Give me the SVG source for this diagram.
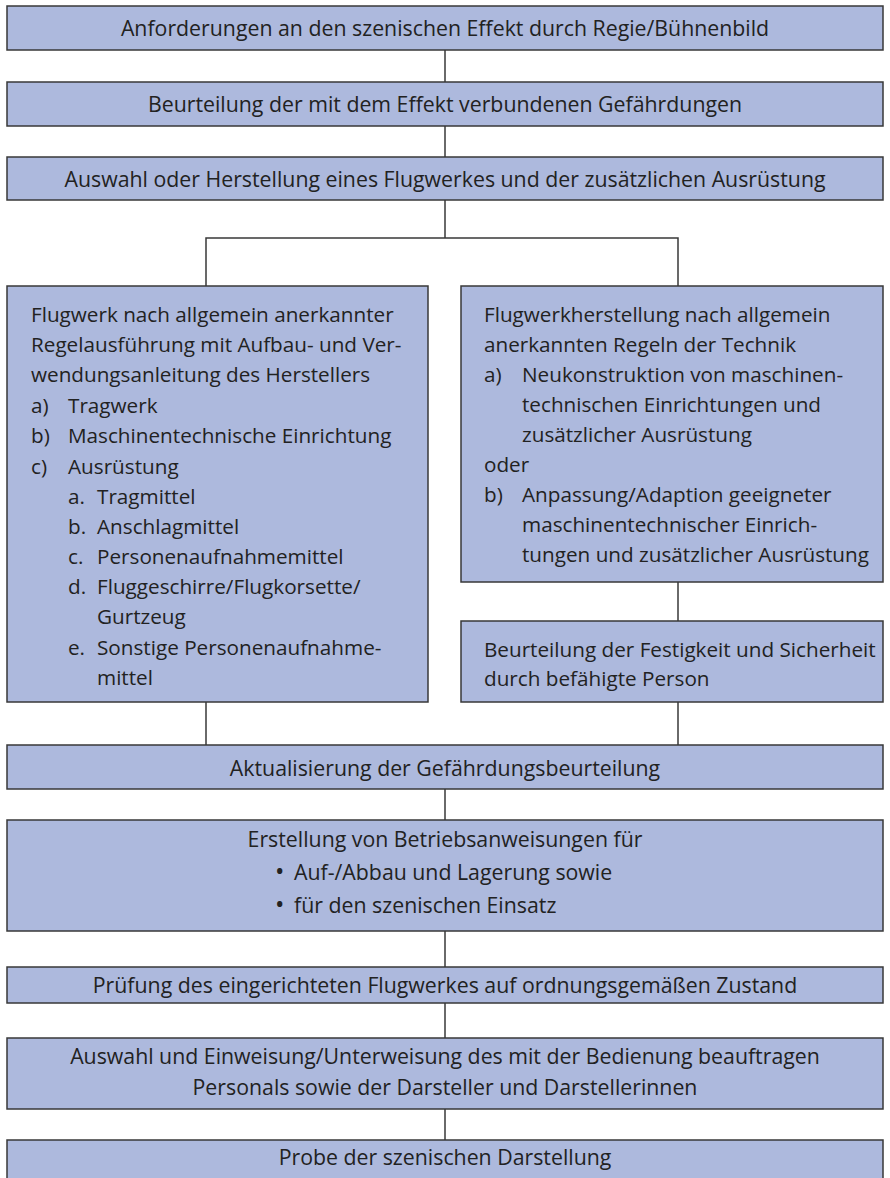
<svg xmlns="http://www.w3.org/2000/svg" width="890" height="1178" viewBox="0 0 890 1178">
<style>
.box{fill:#adb9dd;stroke:#383838;stroke-width:1.5}
.t{font-family:"Open Sans","Noto Sans",sans-serif;font-size:21.3px;fill:#222}
.s{font-size:20.7px}
.c{text-anchor:middle}
.b{font-size:25px}
.ln{stroke:#383838;stroke-width:1.5;fill:none}
</style>
<rect width="890" height="1178" fill="#fff"/>
<g id="connectors">
<line class="ln" x1="445" y1="50" x2="445" y2="82"/>
<line class="ln" x1="445" y1="126" x2="445" y2="157"/>
<line class="ln" x1="445" y1="200" x2="445" y2="238"/>
<polyline class="ln" points="206,286 206,238 678,238 678,286"/>
<line class="ln" x1="678" y1="582" x2="678" y2="621"/>
<line class="ln" x1="206" y1="702" x2="206" y2="745"/>
<line class="ln" x1="678" y1="702" x2="678" y2="745"/>
<line class="ln" x1="445" y1="789" x2="445" y2="820"/>
<line class="ln" x1="445" y1="931" x2="445" y2="967"/>
<line class="ln" x1="445" y1="1003" x2="445" y2="1038"/>
<line class="ln" x1="445" y1="1109" x2="445" y2="1140"/>
</g>
<g id="n1"><rect class="box" x="7" y="6" width="876" height="44"/>
<text class="t c" x="445" y="36">Anforderungen an den szenischen Effekt durch Regie/Bühnenbild</text></g>
<g id="n2"><rect class="box" x="7" y="82" width="876" height="44"/>
<text class="t c" x="445" y="112">Beurteilung der mit dem Effekt verbundenen Gefährdungen</text></g>
<g id="n3"><rect class="box" x="7" y="157" width="876" height="43"/>
<text class="t c" x="445" y="187">Auswahl oder Herstellung eines Flugwerkes und der zusätzlichen Ausrüstung</text></g>
<g id="n4"><rect class="box" x="7" y="286" width="421" height="416"/>
<text class="t s">
<tspan x="31" y="322">Flugwerk nach allgemein anerkannter</tspan>
<tspan x="31" y="352">Regelausführung mit Aufbau- und Ver-</tspan>
<tspan x="31" y="382">wendungsanleitung des Herstellers</tspan>
<tspan x="31" y="413">a)</tspan><tspan x="68" y="413">Tragwerk</tspan>
<tspan x="31" y="443">b)</tspan><tspan x="68" y="443">Maschinentechnische Einrichtung</tspan>
<tspan x="31" y="474">c)</tspan><tspan x="68" y="474">Ausrüstung</tspan>
<tspan x="68" y="504">a.</tspan><tspan x="97" y="504">Tragmittel</tspan>
<tspan x="68" y="534">b.</tspan><tspan x="97" y="534">Anschlagmittel</tspan>
<tspan x="68" y="564">c.</tspan><tspan x="97" y="564">Personenaufnahmemittel</tspan>
<tspan x="68" y="594">d.</tspan><tspan x="97" y="594">Fluggeschirre/Flugkorsette/</tspan>
<tspan x="97" y="624">Gurtzeug</tspan>
<tspan x="68" y="655">e.</tspan><tspan x="97" y="655">Sonstige Personenaufnahme-</tspan>
<tspan x="97" y="685">mittel</tspan>
</text></g>
<g id="n5"><rect class="box" x="461" y="286" width="422" height="296"/>
<text class="t s">
<tspan x="484" y="322">Flugwerkherstellung nach allgemein</tspan>
<tspan x="484" y="352">anerkannten Regeln der Technik</tspan>
<tspan x="484" y="382">a)</tspan><tspan x="522" y="382">Neukonstruktion von maschinen-</tspan>
<tspan x="522" y="412">technischen Einrichtungen und</tspan>
<tspan x="522" y="442">zusätzlicher Ausrüstung</tspan>
<tspan x="484" y="472">oder</tspan>
<tspan x="484" y="502">b)</tspan><tspan x="522" y="502">Anpassung/Adaption geeigneter</tspan>
<tspan x="522" y="532">maschinentechnischer Einrich-</tspan>
<tspan x="522" y="562">tungen und zusätzlicher Ausrüstung</tspan>
</text></g>
<g id="n6"><rect class="box" x="461" y="621" width="422" height="81"/>
<text class="t s">
<tspan x="484" y="657">Beurteilung der Festigkeit und Sicherheit</tspan>
<tspan x="484" y="686">durch befähigte Person</tspan>
</text></g>
<g id="n7"><rect class="box" x="7" y="745" width="876" height="44"/>
<text class="t c" x="445" y="776">Aktualisierung der Gefährdungsbeurteilung</text></g>
<g id="n8"><rect class="box" x="7" y="820" width="876" height="111"/>
<text class="t c" x="445" y="847">Erstellung von Betriebsanweisungen für</text>
<text class="t">
<tspan class="b" x="275" y="880">•</tspan><tspan x="294" y="880">Auf-/Abbau und Lagerung sowie</tspan>
<tspan class="b" x="275" y="913">•</tspan><tspan x="294" y="913">für den szenischen Einsatz</tspan>
</text></g>
<g id="n9"><rect class="box" x="7" y="967" width="876" height="36"/>
<text class="t c" x="445" y="993">Prüfung des eingerichteten Flugwerkes auf ordnungsgemäßen Zustand</text></g>
<g id="n10"><rect class="box" x="7" y="1038" width="876" height="71"/>
<text class="t c" x="445" y="1064">Auswahl und Einweisung/Unterweisung des mit der Bedienung beauftragen</text>
<text class="t c" x="445" y="1095">Personals sowie der Darsteller und Darstellerinnen</text></g>
<g id="n11"><rect class="box" x="7" y="1140" width="876" height="60"/>
<text class="t c" x="445" y="1165">Probe der szenischen Darstellung</text></g>
</svg>
